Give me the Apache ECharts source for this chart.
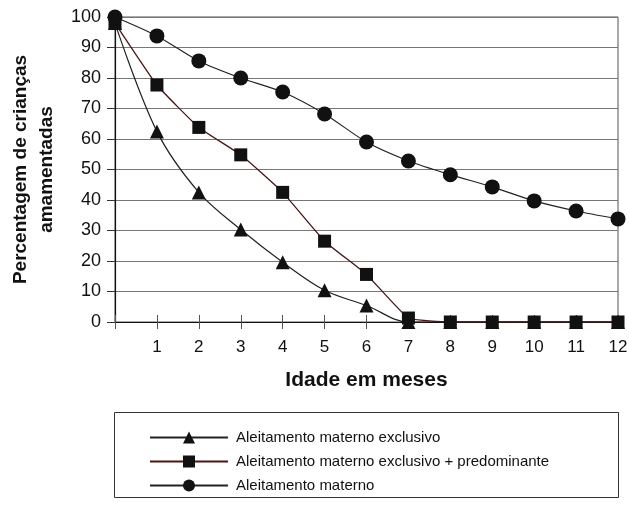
<!DOCTYPE html>
<html>
<head>
<meta charset="utf-8">
<script src="https://cdn.jsdelivr.net/npm/echarts@6/dist/echarts.min.js"></script>
<style>html,body{margin:0;padding:0;background:#fff}#c{width:629px;height:506px}</style>
</head>
<body>
<div id="c"></div>
<script>
var months = [0,1,2,3,4,5,6,7,8,9,10,11,12];
var exclusivo = [98,62.5,42.5,30.3,19.6,10.4,5.4,0,0,0,0,0,0];
var predominante = [98,77.7,63.8,54.8,42.5,26.5,15.6,1.3,0,0,0,0,0];
var materno = [100,93.8,85.6,80,75.4,68.2,59,52.8,48.3,44.3,39.7,36.4,33.8];
var seriesNames = ['Aleitamento materno exclusivo','Aleitamento materno exclusivo + predominante','Aleitamento materno'];
var xName = 'Idade em meses';
var yName = 'Percentagem de crianças\namamentadas';

function pairs(arr){ return months.map(function(m,i){ return [m, arr[i]]; }); }

var chart = echarts.init(document.getElementById('c'));
var font = 'Liberation Sans, Arial, sans-serif';
chart.setOption({
  animation: false,
  textStyle: {fontFamily: font},
  grid: {left: 115, right: 11, top: 17, bottom: 184, show: true, borderColor: '#555', borderWidth: 1,
    containLabel: false, outerBoundsMode: 'none'},
  xAxis: [{
    type: 'value', min: 0, max: 12, interval: 1,
    name: xName, nameLocation: 'middle', nameGap: 48,
    nameTextStyle: {fontSize: 21, fontWeight: 'bold', color: '#111', fontFamily: font},
    axisLine: {lineStyle: {color: '#111', width: 1.2}},
    axisTick: {show: true, length: 7, lineStyle: {color: '#555'}},
    axisLabel: {fontSize: 17, color: '#111', margin: 17, fontFamily: font,
      formatter: function(v){ return v === 0 ? '' : v; }},
    splitLine: {show: false}
  },{
    type: 'value', min: 0, max: 12, interval: 1, position: 'bottom',
    axisLine: {show: false},
    axisTick: {show: true, inside: true, length: 7, lineStyle: {color: '#555'}},
    axisLabel: {show: false}, splitLine: {show: false}
  }],
  yAxis: {
    type: 'value', min: 0, max: 100, interval: 10,
    name: yName, nameLocation: 'middle', nameGap: 52,
    nameTextStyle: {fontSize: 19, fontWeight: 'bold', color: '#111', lineHeight: 26, fontFamily: font},
    axisLine: {show: true, lineStyle: {color: '#111', width: 1.2}},
    axisTick: {show: true, length: 8, lineStyle: {color: '#333'}},
    axisLabel: {fontSize: 18, color: '#111', margin: 14, fontFamily: font},
    splitLine: {lineStyle: {color: '#777', width: 1.2}}
  },
  legend: {
    orient: 'vertical', left: 144, top: 425, itemGap: 9,
    itemWidth: 78, itemHeight: 15,
    textStyle: {fontSize: 15, color: '#111', fontFamily: font, padding: [0,0,0,3]},
    data: seriesNames
  },
  graphic: [{
    type: 'rect', shape: {x: 114.5, y: 412.5, width: 504, height: 85},
    style: {fill: 'none', stroke: '#333', lineWidth: 1}, z: -1
  }],
  series: [{
    name: seriesNames[0], type: 'line', data: pairs(exclusivo),
    smooth: 0.35,
    symbol: 'triangle', symbolSize: 14,
    lineStyle: {color: '#222', width: 1.2}, itemStyle: {color: '#111'}
  },{
    name: seriesNames[1], type: 'line', data: pairs(predominante),
    smooth: 0.12,
    symbol: 'rect', symbolSize: 13,
    lineStyle: {color: '#4a1414', width: 1.3}, itemStyle: {color: '#111'}
  },{
    name: seriesNames[2], type: 'line', data: pairs(materno),
    smooth: 0.25,
    symbol: 'circle', symbolSize: 15,
    lineStyle: {color: '#222', width: 1.2}, itemStyle: {color: '#111'}
  }]
});
</script>
</body>
</html>
